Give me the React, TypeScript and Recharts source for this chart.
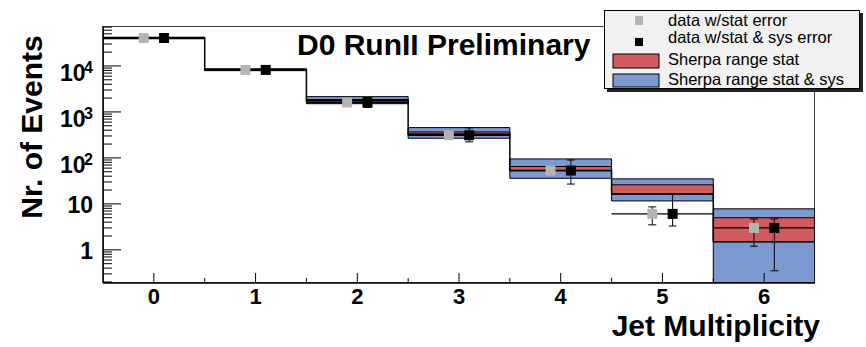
import {
  ComposedChart,
  Line,
  Scatter,
  ErrorBar,
  XAxis,
  YAxis,
  ReferenceArea,
  ReferenceLine,
  Legend,
} from 'recharts';

const jetBins = [0, 1, 2, 3, 4, 5, 6];
const dataCounts = [40600, 8200, 1600, 311, 53, 6.06, 3.0];
const statLow = [40200, 8050, 1560, 296, 47, 3.5, 1.2];
const statHigh = [41000, 8350, 1640, 326, 60, 8.6, 4.7];
const statSysLow = [36500, 7300, 1250, 224, 27, 3.3, 0.35];
const statSysHigh = [44700, 9100, 2050, 450, 90, 16.5, 4.7];
const sherpaStatLow = [40200, 8200, 1740, 327, 53, 16.5, 1.5];
const sherpaStatHigh = [41000, 8400, 1860, 367, 65, 26, 5.0];
const sherpaSysLow = [39000, 7900, 1510, 268, 36, 11.6, 0.1];
const sherpaSysHigh = [42200, 8700, 2150, 456, 95, 35, 7.8];

const xTicks = [0, 0.5, 1, 1.5, 2, 2.5, 3, 3.5, 4, 4.5, 5, 5.5, 6];
const yMajorTicks = [1, 10, 100, 1000, 10000];
const yMajorLabels = [
  { base: '1', exp: '' },
  { base: '10', exp: '' },
  { base: '10', exp: '2' },
  { base: '10', exp: '3' },
  { base: '10', exp: '4' },
];
const yDomain = [0.19, 74000];

const FONT = '"Liberation Sans", Arial, Helvetica, sans-serif';
const BLUE = '#7b9ad2';
const RED = '#d05b5e';
const GREY = '#b4b4b4';

// minor log ticks 2..9 per decade inside the domain
const yTicks: number[] = [];
for (let d = -1; d <= 4; d++) {
  for (let k = 1; k <= 9; k++) {
    const v = k * Math.pow(10, d);
    if (v >= yDomain[0] && v <= yDomain[1]) yTicks.push(Number(v.toPrecision(3)));
  }
}

const greyPts = jetBins.map((b, i) => ({
  x: b - 0.1,
  y: dataCounts[i],
  err: [dataCounts[i] - statLow[i], statHigh[i] - dataCounts[i]],
}));
const blackPts = jetBins.map((b, i) => ({
  x: b + 0.1,
  y: dataCounts[i],
  err: [dataCounts[i] - statSysLow[i], statSysHigh[i] - dataCounts[i]],
}));
// outline histogram of the sherpa stat band (lower edge), drawn as steps
const stepPts = [
  { x: jetBins[0] - 0.5, y: sherpaStatLow[0] },
  ...jetBins.map((b, i) => ({ x: b, y: sherpaStatLow[i] })),
  { x: jetBins[jetBins.length - 1] + 0.5, y: sherpaStatLow[sherpaStatLow.length - 1] },
];

const YTick = (props: any) => {
  const { x, y, payload } = props;
  const idx = yMajorTicks.indexOf(payload.value);
  const len = idx >= 0 ? 18 : 9;
  const lab = idx >= 0 ? yMajorLabels[idx] : null;
  return (
    <g>
      <line x1={x} x2={x + len} y1={y} y2={y} stroke="#000" strokeWidth={1} />
      {lab && !lab.exp && (
        <text x={x - 10} y={y + 9} textAnchor="end" fontFamily={FONT} fontWeight="bold" fontSize={23} fill="#000">
          {lab.base}
        </text>
      )}
      {lab && lab.exp && (
        <text x={x - 43} y={y + 15} fontFamily={FONT} fontWeight="bold" fontSize={23} fill="#000">
          {lab.base}
          <tspan x={x - 19} y={y + 7} fontSize={16}>{lab.exp}</tspan>
        </text>
      )}
    </g>
  );
};

const XTick = (props: any) => {
  const { x, y, payload } = props;
  const major = Number.isInteger(payload.value);
  return (
    <g>
      <line x1={x} x2={x} y1={y} y2={y - (major ? 10 : 5)} stroke="#000" strokeWidth={1} />
      {major && (
        <text x={x} y={y + 21} textAnchor="middle" fontFamily={FONT} fontWeight="bold" fontSize={22} fill="#000">
          {payload.value}
        </text>
      )}
    </g>
  );
};

const LegendBox = () => (
  <div
    style={{
      width: 254,
      height: 77,
      background: '#f1f1f1',
      border: '1px solid #000',
      boxShadow: '3px 3px 0 #222',
      position: 'relative',
    }}
  >
    <svg width={254} height={77} style={{ position: 'absolute', left: 0, top: 0 }}>
      <rect x={30} y={5} width={8} height={9} fill={GREY} />
      <rect x={30} y={27} width={8} height={8} fill="#000" />
      <rect x={8} y={43} width={46} height={14} fill={RED} stroke="#000" />
      <rect x={8} y={63} width={46} height={13} fill={BLUE} stroke="#000" />
      <g fontFamily={FONT} fontSize={16.5} fill="#000">
        <text x={63} y={15}>data w/stat error</text>
        <text x={63} y={32}>data w/stat &amp; sys error</text>
        <text x={63} y={54}>Sherpa range stat</text>
        <text x={63} y={74}>Sherpa range stat &amp; sys</text>
      </g>
    </svg>
  </div>
);

const squareShape = (fill: string) => (p: any) =>
  <rect x={p.cx - 5} y={p.cy - 5} width={10} height={10} fill={fill} />;

export default function App() {
  return (
    <div style={{ position: 'absolute', left: 0, top: 0, width: 866, height: 347, background: '#fff' }}>
      <ComposedChart width={866} height={347} margin={{ top: 26, right: 51, bottom: 34, left: 0 }}>
        <XAxis
          dataKey="x"
          type="number"
          domain={[-0.5, 6.5]}
          ticks={xTicks}
          interval={0}
          tickSize={0}
          tickMargin={0}
          tick={<XTick />}
          height={30}
          axisLine={{ stroke: '#000', strokeWidth: 1.5 }}
          allowDataOverflow
        />
        <YAxis
          dataKey="y"
          scale="log"
          domain={yDomain}
          ticks={yTicks}
          interval={0}
          tickSize={0}
          tickMargin={0}
          tick={<YTick />}
          width={103}
          axisLine={{ stroke: '#000', strokeWidth: 1.5 }}
          allowDataOverflow
        />
        {jetBins.map((b, i) => (
          <ReferenceArea
            key={'sys' + b}
            x1={b - 0.5}
            x2={b + 0.5}
            y1={sherpaSysLow[i]}
            y2={sherpaSysHigh[i]}
            fill={BLUE}
            fillOpacity={1}
            stroke="#000"
            strokeWidth={1}
            ifOverflow="hidden"
          />
        ))}
        {jetBins.map((b, i) => (
          <ReferenceArea
            key={'stat' + b}
            x1={b - 0.5}
            x2={b + 0.5}
            y1={sherpaStatLow[i]}
            y2={sherpaStatHigh[i]}
            fill={RED}
            fillOpacity={1}
            stroke="#000"
            strokeWidth={1}
            ifOverflow="hidden"
          />
        ))}
        {jetBins.map((b, i) => (
          <ReferenceLine
            key={'xb' + b}
            segment={[
              { x: b - 0.5, y: dataCounts[i] },
              { x: b + 0.5, y: dataCounts[i] },
            ]}
            stroke="#000"
            strokeWidth={1.3}
          />
        ))}
        <Line
          data={stepPts}
          dataKey="y"
          type="step"
          stroke="#000"
          strokeWidth={1.5}
          dot={false}
          isAnimationActive={false}
        />
        <Scatter data={greyPts} dataKey="y" shape={squareShape(GREY)} isAnimationActive={false}>
          <ErrorBar dataKey="err" direction="y" width={4} stroke="#000" strokeWidth={1} />
        </Scatter>
        <Scatter data={blackPts} dataKey="y" shape={squareShape('#000')} isAnimationActive={false}>
          <ErrorBar dataKey="err" direction="y" width={4} stroke="#000" strokeWidth={1} />
        </Scatter>
        <ReferenceArea
          x1={-0.5}
          x2={6.5}
          y1={yDomain[0]}
          y2={yDomain[1]}
          fill="none"
          stroke="#000"
          strokeWidth={1.5}
          ifOverflow="hidden"
        />
        <text x={297} y={55} fontFamily={FONT} fontWeight="bold" fontSize={30} fill="#000">
          D0 RunII Preliminary
        </text>
        <text
          transform="translate(42,127) rotate(-90)"
          textAnchor="middle"
          fontFamily={FONT}
          fontWeight="bold"
          fontSize={30}
          fill="#000"
        >
          Nr. of Events
        </text>
        <text x={820} y={336} textAnchor="end" fontFamily={FONT} fontWeight="bold" fontSize={30} fill="#000">
          Jet Multiplicity
        </text>
        <Legend
          layout="horizontal"
          verticalAlign="middle"
          align="center"
          content={<LegendBox />}
          wrapperStyle={{ position: 'absolute', left: 604, top: 10, width: 256, height: 79 }}
        />
      </ComposedChart>
    </div>
  );
}
